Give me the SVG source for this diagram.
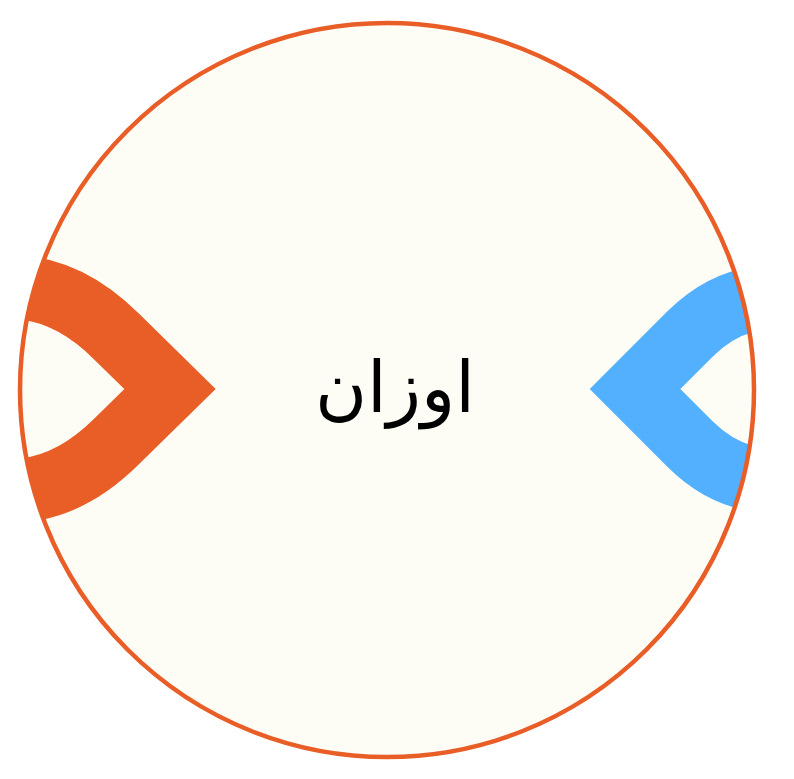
<svg xmlns="http://www.w3.org/2000/svg" width="794" height="779" viewBox="0 0 794 779">
<style>
.bg{fill:#FDFDF6}
.ring{fill:none;stroke:#E95E27;stroke-width:4.5}
.chev{fill:none;stroke-width:64;stroke-linejoin:miter;stroke-miterlimit:10}
.lbl{font-family:"DejaVu Sans","Noto Sans",sans-serif;font-size:71px;fill:#000;text-anchor:middle}
</style>
<defs>
<clipPath id="inside"><circle cx="387" cy="390" r="367"/></clipPath>
</defs>
<rect width="794" height="779" fill="#FFFFFF"/>
<g id="node-main">
<circle class="bg" cx="387" cy="390" r="367"/>
<g clip-path="url(#inside)">
<path id="chev-left" class="chev" stroke="#E95E27" d="M -20,287 L 10,287 Q 67,287 117,337 L 170,389 L 117,441 Q 67,491 10,491 L -20,491"/>
<path id="chev-right" class="chev" stroke="#52B0FF" d="M 810,297 L 775,297 Q 727,297 690,334 L 635,389 L 690,444 Q 727,481 775,481 L 810,481"/>
</g>
<circle class="ring" cx="387" cy="390" r="367"/>
<text class="lbl" x="395" y="412">اوزان</text>
</g>
</svg>
